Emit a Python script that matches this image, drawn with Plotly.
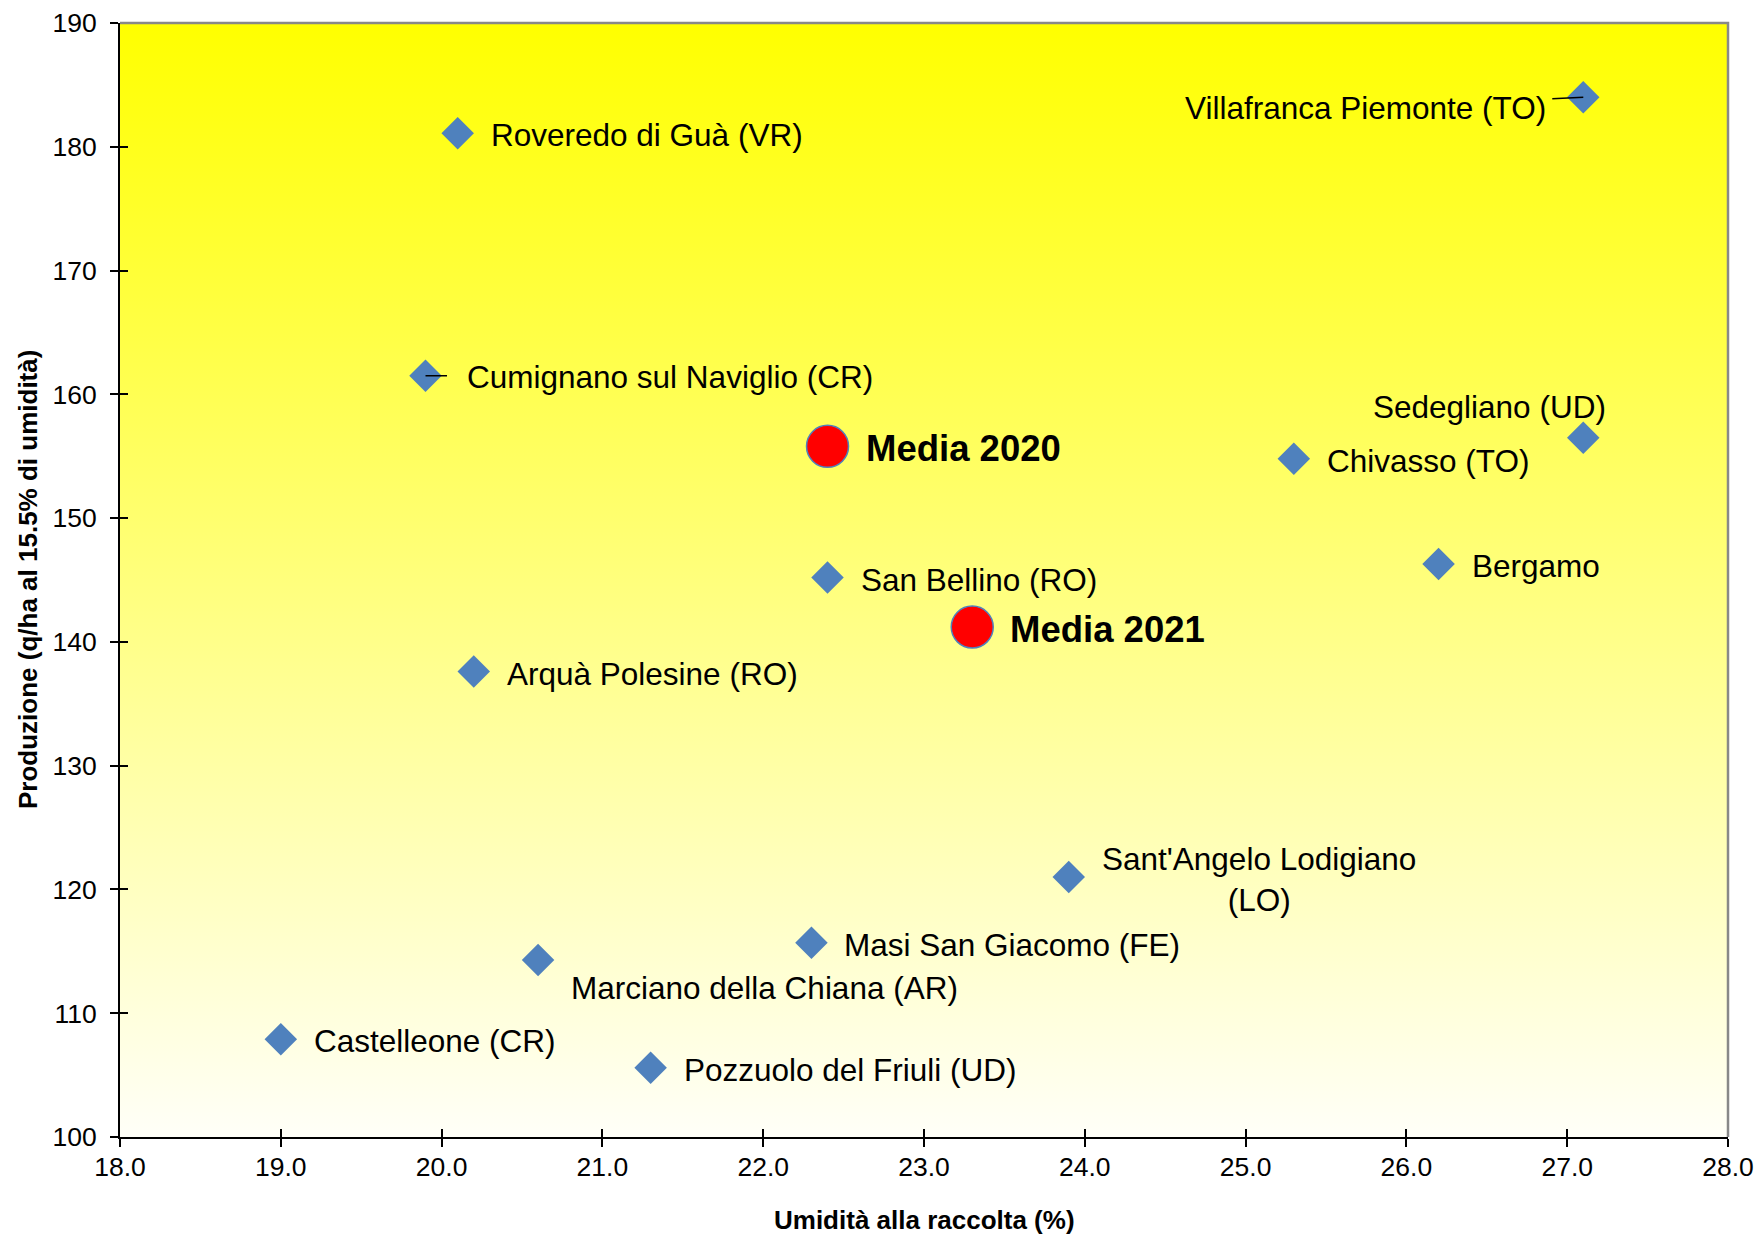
import plotly.graph_objects as go

# dati: umidita alla raccolta (%) e produzione (q/ha al 15.5%)
localita = ["Roveredo di Guà (VR)", "Villafranca Piemonte (TO)", "Cumignano sul Naviglio (CR)",
            "Sedegliano (UD)", "Chivasso (TO)", "Bergamo", "San Bellino (RO)",
            "Arquà Polesine (RO)", "Sant'Angelo Lodigiano<br>(LO)", "Masi San Giacomo (FE)",
            "Marciano della Chiana (AR)", "Castelleone (CR)", "Pozzuolo del Friuli (UD)"]
umidita = [20.1, 27.1, 19.9, 27.1, 25.3, 26.2, 22.4, 20.2, 23.9, 22.3, 20.6, 19.0, 21.3]
produzione = [181.1, 184.0, 161.5, 156.5, 154.8, 146.3, 145.2, 137.6, 121.0, 115.7, 114.3, 107.9, 105.6]

medie = ["Media 2020", "Media 2021"]
media_umidita = [22.4, 23.3]
media_produzione = [155.8, 141.2]

x_range = [18, 28]
y_range = [100, 190]

# posizione etichette (pixel): xanchor, xshift, yshift
label_pos = {
    "Sedegliano (UD)": ("right", 25, 31),
    "Marciano della Chiana (AR)": ("left", 31, -28),
}

FONT = "Liberation Sans, Arial, sans-serif"

fig = go.Figure()

# sfondo a gradiente
fig.add_trace(go.Scatter(
    x=[x_range[0], x_range[1], x_range[1], x_range[0], x_range[0]],
    y=[y_range[0], y_range[0], y_range[1], y_range[1], y_range[0]],
    fill="toself", mode="none", hoverinfo="skip", showlegend=False,
    fillgradient=dict(type="vertical", colorscale=[[0, "#FFFFF8"], [1, "#FFFF00"]]),
))

fig.add_trace(go.Scatter(
    x=umidita, y=produzione, mode="markers", showlegend=False,
    marker=dict(symbol="diamond", size=25, color="#4F81BD", line=dict(width=0)),
))
fig.add_trace(go.Scatter(
    x=media_umidita, y=media_produzione, mode="markers", showlegend=False,
    marker=dict(symbol="circle", size=42, color="#FF0000", line=dict(width=1.5, color="#4F81BD")),
))

ann = []
for nome, xv, yv in zip(localita, umidita, produzione):
    if nome.startswith("Villafranca"):
        ann.append(dict(x=xv, y=yv, text=nome, showarrow=True, arrowhead=0, arrowwidth=1.5,
                        arrowcolor="black", ax=-218, ay=11, borderpad=6,
                        font=dict(family=FONT, size=31.5, color="black")))
        continue
    if nome.startswith("Cumignano"):
        ann.append(dict(x=xv, y=yv, text=nome, showarrow=True, arrowhead=0, arrowwidth=1.5,
                        arrowcolor="black", ax=244, ay=1, borderpad=19,
                        font=dict(family=FONT, size=31.5, color="black")))
        continue
    xa, xs, ys = label_pos.get(nome, ("left", 31, -2))
    ann.append(dict(x=xv, y=yv, text=nome, showarrow=False, xanchor=xa, yanchor="middle",
                    xshift=xs, yshift=ys, align="center",
                    font=dict(family=FONT, size=31.5, color="black")))

for nome, xv, yv in zip(medie, media_umidita, media_produzione):
    ann.append(dict(x=xv, y=yv, text="<b>" + nome + "</b>", showarrow=False, xanchor="left",
                    yanchor="middle", xshift=36, yshift=-2,
                    font=dict(family=FONT, size=36.5, color="black")))

# titoli assi
ann.append(dict(xref="paper", yref="paper", x=0.5, y=-83 / 1113, text="<b>Umidità alla raccolta (%)</b>",
                showarrow=False, xanchor="center", yanchor="middle",
                font=dict(family=FONT, size=26, color="black")))
ann.append(dict(xref="paper", yref="paper", x=-92 / 1608, y=0.5,
                text="<b>Produzione (q/ha al 15.5% di umidità)</b>", textangle=-90,
                showarrow=False, xanchor="center", yanchor="middle",
                font=dict(family=FONT, size=26, color="black")))

fig.update_layout(
    width=1760, height=1235,
    margin=dict(l=120, r=32, t=23, b=98, autoexpand=False),
    paper_bgcolor="white", plot_bgcolor="white",
    font=dict(family=FONT, size=26.5, color="black"),
    annotations=ann,
    shapes=[dict(type="path", xref="paper", yref="paper", path="M 0 1 L 1 1 L 1 0",
                 line=dict(color="#888888", width=2.5), layer="above")],
    xaxis=dict(range=x_range, dtick=1, tickformat=".1f", showgrid=False, zeroline=False,
               showline=True, linecolor="black", linewidth=2, ticks="outside", ticklen=8,
               tickwidth=1.5, tickcolor="black", tickfont=dict(size=26.5), ticklabelstandoff=-3,
               automargin=False),
    yaxis=dict(range=y_range, dtick=10, showgrid=False, zeroline=False,
               showline=True, linecolor="black", linewidth=2, ticks="outside", ticklen=8,
               tickwidth=1.5, tickcolor="black", tickfont=dict(size=26.5), ticklabelstandoff=8,
               automargin=False),
    xaxis2=dict(range=x_range, dtick=1, overlaying="x", anchor="y", side="bottom",
                showgrid=False, zeroline=False, showticklabels=False, ticks="inside",
                ticklen=8, tickwidth=1.5, tickcolor="black", automargin=False),
    yaxis2=dict(range=y_range, dtick=10, overlaying="y", anchor="x", side="left",
                showgrid=False, zeroline=False, showticklabels=False, ticks="inside",
                ticklen=8, tickwidth=1.5, tickcolor="black", automargin=False),
)
fig.add_trace(go.Scatter(x=[], y=[], xaxis="x2", yaxis="y2", showlegend=False))

fig.write_html("out.html", config={"displayModeBar": False},
               post_script="document.body.style.margin='0px';")
